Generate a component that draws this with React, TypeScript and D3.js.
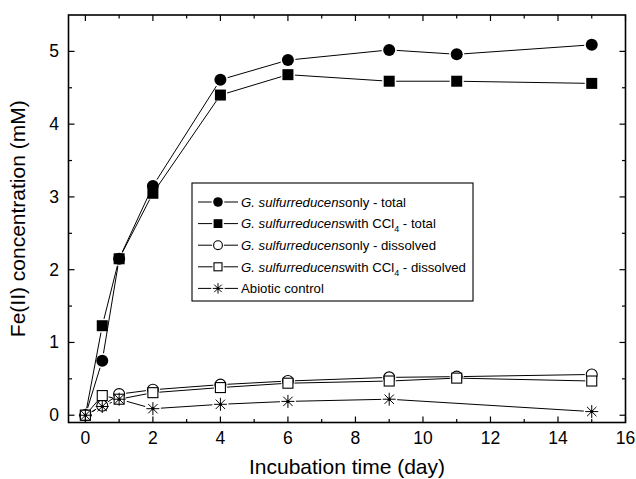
import React from "react";
import * as d3 from "d3";

const days = [0, 0.5, 1, 2, 4, 6, 9, 11, 15];
const onlyTotal = [0, 0.75, 2.15, 3.15, 4.61, 4.88, 5.02, 4.96, 5.09];
const ccl4Total = [0, 1.23, 2.15, 3.05, 4.4, 4.68, 4.59, 4.59, 4.56];
const onlyDissolved = [0, 0.13, 0.29, 0.35, 0.42, 0.47, 0.52, 0.53, 0.56];
const ccl4Dissolved = [0, 0.27, 0.22, 0.31, 0.38, 0.44, 0.47, 0.51, 0.47];
const abioticDays = [0, 0.5, 1, 2, 4, 6, 9, 15];
const abiotic = [0, 0.12, 0.22, 0.09, 0.15, 0.19, 0.22, 0.05];

const xMajor = [0, 2, 4, 6, 8, 10, 12, 14, 16];
const xMinor = [1, 3, 5, 7, 9, 11, 13, 15];
const yMajor = [0, 1, 2, 3, 4, 5];
const yMinor = [0.5, 1.5, 2.5, 3.5, 4.5];

type Shape = "fcircle" | "fsquare" | "ocircle" | "osquare" | "star";

const seriesList: { label: string; suffix: string; sub?: string; tail?: string; shape: Shape; xs: number[]; ys: number[] }[] = [
  { label: "G. sulfurreducens", suffix: "only - total", shape: "fcircle", xs: days, ys: onlyTotal },
  { label: "G. sulfurreducens", suffix: "with CCl", sub: "4", tail: " - total", shape: "fsquare", xs: days, ys: ccl4Total },
  { label: "G. sulfurreducens", suffix: "only - dissolved", shape: "ocircle", xs: days, ys: onlyDissolved },
  { label: "G. sulfurreducens", suffix: "with CCl", sub: "4", tail: " - dissolved", shape: "osquare", xs: days, ys: ccl4Dissolved },
  { label: "", suffix: "Abiotic control", shape: "star", xs: abioticDays, ys: abiotic },
];

const FONT = "'Liberation Sans', Arial, sans-serif";

function markerR(shape: Shape, scale: number) {
  const base = shape === "fcircle" ? 6 : shape === "fsquare" ? 5.5 : shape === "ocircle" ? 5.5 : shape === "osquare" ? 5 : 6.5;
  return base * scale;
}

function Marker({ shape, cx, cy, s = 1 }: { shape: Shape; cx: number; cy: number; s?: number }) {
  const r = markerR(shape, s);
  if (shape === "fcircle") return <circle cx={cx} cy={cy} r={r} fill="#000" />;
  if (shape === "fsquare") return <rect x={cx - r} y={cy - r} width={2 * r} height={2 * r} fill="#000" />;
  if (shape === "ocircle") return <circle cx={cx} cy={cy} r={r} fill="#fff" stroke="#000" strokeWidth={1.1} />;
  if (shape === "osquare") return <rect x={cx - r} y={cy - r} width={2 * r} height={2 * r} fill="#fff" stroke="#000" strokeWidth={1.1} />;
  const d = r * 0.72;
  return (
    <g stroke="#000" strokeWidth={1}>
      <line x1={cx} y1={cy - r} x2={cx} y2={cy + r} />
      <line x1={cx - r} y1={cy} x2={cx + r} y2={cy} />
      <line x1={cx - d} y1={cy - d} x2={cx + d} y2={cy + d} />
      <line x1={cx - d} y1={cy + d} x2={cx + d} y2={cy - d} />
      <circle cx={cx} cy={cy} r={1.6 * s} fill="#000" stroke="none" />
    </g>
  );
}

function trimmedSegments(pts: [number, number][], gapA: number) {
  const segs: [number, number, number, number][] = [];
  for (let i = 0; i < pts.length - 1; i++) {
    const [x1, y1] = pts[i];
    const [x2, y2] = pts[i + 1];
    const L = Math.hypot(x2 - x1, y2 - y1);
    if (L <= 2 * gapA) continue;
    const ux = (x2 - x1) / L, uy = (y2 - y1) / L;
    segs.push([x1 + ux * gapA, y1 + uy * gapA, x2 - ux * gapA, y2 - uy * gapA]);
  }
  return segs;
}

export default function App() {
  const W = 636, H = 479;
  const x = d3.scaleLinear().domain([-0.5, 16]).range([68.5, 625.5]);
  const y = d3.scaleLinear().domain([-0.1, 5.5]).range([422.5, 15]);
  const [x0, x1] = x.range();
  const [yb, yt] = y.range();

  const legX = 192, legY = 183, legW = 281, legH = 118;
  const rowY = (i: number) => legY + 19 + i * 21.6;

  return (
    <svg width={W} height={H} style={{ position: "absolute", left: 0, top: 0, background: "#fff" }} fontFamily={FONT}>
      {/* series lines */}
      {seriesList.map((s, si) => {
        const pts = s.xs.map((d, i) => [x(d), y(s.ys[i])] as [number, number]);
        const gap = markerR(s.shape, 1) + 1.5;
        return (
          <g key={"l" + si} stroke="#000" strokeWidth={1}>
            {trimmedSegments(pts, gap).map((g, i) => (
              <line key={i} x1={g[0]} y1={g[1]} x2={g[2]} y2={g[3]} />
            ))}
          </g>
        );
      })}
      {/* markers */}
      {seriesList.map((s, si) => (
        <g key={"m" + si}>
          {s.xs.map((d, i) => (
            <Marker key={i} shape={s.shape} cx={x(d)} cy={y(s.ys[i])} />
          ))}
        </g>
      ))}

      {/* frame */}
      <rect x={x0} y={yt} width={x1 - x0} height={yb - yt} fill="none" stroke="#000" strokeWidth={1.6} />
      {/* ticks */}
      <g stroke="#000" strokeWidth={1.2}>
        {xMajor.map((t) => (
          <g key={"xM" + t}>
            <line x1={x(t)} x2={x(t)} y1={yb} y2={yb - 6} />
            <line x1={x(t)} x2={x(t)} y1={yt} y2={yt + 6} />
          </g>
        ))}
        {xMinor.map((t) => (
          <g key={"xm" + t}>
            <line x1={x(t)} x2={x(t)} y1={yb} y2={yb - 3.5} />
            <line x1={x(t)} x2={x(t)} y1={yt} y2={yt + 3.5} />
          </g>
        ))}
        {yMajor.map((t) => (
          <g key={"yM" + t}>
            <line x1={x0} x2={x0 + 6} y1={y(t)} y2={y(t)} />
            <line x1={x1} x2={x1 - 6} y1={y(t)} y2={y(t)} />
          </g>
        ))}
        {yMinor.map((t) => (
          <g key={"ym" + t}>
            <line x1={x0} x2={x0 + 3.5} y1={y(t)} y2={y(t)} />
            <line x1={x1} x2={x1 - 3.5} y1={y(t)} y2={y(t)} />
          </g>
        ))}
      </g>
      {/* tick labels */}
      <g fontSize={17.5} fill="#000">
        {xMajor.map((t) => (
          <text key={"xl" + t} x={x(t)} y={444} textAnchor="middle">{t}</text>
        ))}
        {yMajor.map((t) => (
          <text key={"yl" + t} x={59} y={y(t) + 6} textAnchor="end">{t}</text>
        ))}
      </g>
      {/* axis titles */}
      <text x={(x0 + x1) / 2} y={474} textAnchor="middle" fontSize={21}>Incubation time (day)</text>
      <text transform={`translate(25, ${(yb + yt) / 2}) rotate(-90)`} textAnchor="middle" fontSize={21}>Fe(II) concentration (mM)</text>

      {/* legend */}
      <rect x={legX} y={legY} width={legW} height={legH} fill="#fff" stroke="#000" strokeWidth={1.1} />
      {seriesList.map((s, i) => {
        const cy = rowY(i);
        const cx = 218;
        const r = markerR(s.shape, 0.8);
        return (
          <g key={"lg" + i}>
            <line x1={198} x2={cx - r - 1.5} y1={cy} y2={cy} stroke="#000" strokeWidth={1} />
            <line x1={cx + r + 1.5} x2={238} y1={cy} y2={cy} stroke="#000" strokeWidth={1} />
            <Marker shape={s.shape} cx={cx} cy={cy} s={0.8} />
            <text x={241} y={cy + 4.8} fontSize={13.2}>
              {s.label && <tspan fontStyle="italic">{s.label}</tspan>}
              <tspan>{s.suffix}</tspan>
              {s.sub && <tspan fontSize={9} dy={4}>{s.sub}</tspan>}
              {s.tail && <tspan dy={s.sub ? -4 : 0}>{s.tail}</tspan>}
            </text>
          </g>
        );
      })}
    </svg>
  );
}
